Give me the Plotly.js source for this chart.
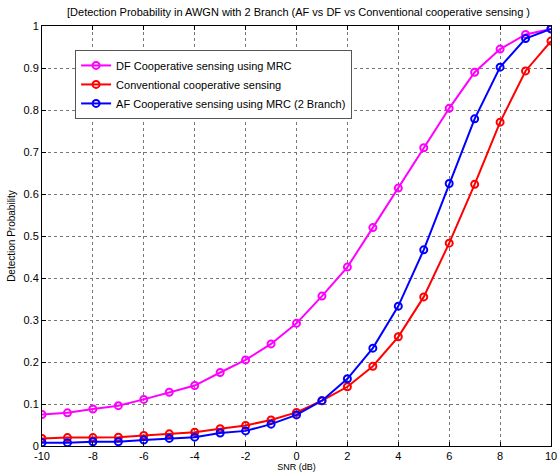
<!DOCTYPE html>
<html>
<head>
<meta charset="utf-8">
<script src="https://cdn.plot.ly/plotly-3.0.1.min.js"></script>
<style>html,body{margin:0;padding:0;background:#fff;}#chart{width:558px;height:472px;}</style>
</head>
<body>
<div id="chart"></div>
<script>
const snr = [-10,-9,-8,-7,-6,-5,-4,-3,-2,-1,0,1,2,3,4,5,6,7,8,9,10];
const dfMRC = [0.075,0.079,0.088,0.096,0.111,0.128,0.144,0.175,0.205,0.243,0.292,0.357,0.426,0.52,0.614,0.71,0.804,0.89,0.945,0.98,0.993];
const conventional = [0.018,0.02,0.02,0.021,0.025,0.029,0.033,0.041,0.049,0.062,0.080,0.108,0.141,0.19,0.26,0.355,0.483,0.623,0.771,0.893,0.964];
const afMRC = [0.008,0.008,0.010,0.010,0.014,0.018,0.021,0.031,0.036,0.052,0.074,0.108,0.160,0.233,0.333,0.467,0.625,0.779,0.902,0.97,0.993];
const names = ['DF Cooperative sensing using MRC','Conventional cooperative sensing','AF Cooperative sensing using MRC (2 Branch)'];
const colors = ['#ff00ff','#ff0000','#0000ff'];
const series = [dfMRC, conventional, afMRC];
const xTicks = [-10,-8,-6,-4,-2,0,2,4,6,8,10];

const traces = series.map((s,i)=>({
  x: snr, y: s, name: names[i], type:'scatter', mode:'lines+markers',
  line:{color:colors[i], width:2},
  marker:{symbol:'circle-open', size:7, color:colors[i], line:{width:2, color:colors[i]}}
}));

const axisCommon = {
  showline:true, linecolor:'#000', linewidth:1, mirror:'ticks',
  ticks:'inside', ticklen:4, tickcolor:'#000',
  showgrid:true, gridcolor:'#777', griddash:'dot', gridwidth:1,
  zeroline:false, tickfont:{family:'Arial, Liberation Sans, sans-serif', size:11, color:'#000'}
};

const layout = {
  width:558, height:472,
  margin:{l:42, r:7, t:26, b:26},
  paper_bgcolor:'#fff', plot_bgcolor:'#fff',
  title:{text:'[Detection Probability in AWGN with 2 Branch (AF vs DF vs Conventional cooperative sensing )',
    font:{family:'Arial, Liberation Sans, sans-serif', size:11, color:'#000'}, x:0.535, xanchor:'center', y:0.975, yanchor:'middle'},
  xaxis:Object.assign({}, axisCommon, {range:[-10,10], tickvals:xTicks, ticktext:xTicks.map(String),
    title:{text:'SNR (dB)', font:{family:'Arial, Liberation Sans, sans-serif', size:9, color:'#000'}, standoff:2}}),
  yaxis:Object.assign({}, axisCommon, {range:[0,1], dtick:0.1, tick0:0,
    title:{text:'Detection Probability', font:{family:'Arial, Liberation Sans, sans-serif', size:10, color:'#000'}, standoff:6}}),
  legend:{x:0.065, y:0.943, xanchor:'left', yanchor:'top', bgcolor:'#fff', bordercolor:'#555', borderwidth:1,
    font:{family:'Arial, Liberation Sans, sans-serif', size:11, color:'#000'}, tracegroupgap:0, itemwidth:30},
  showlegend:true
};

Plotly.newPlot('chart', traces, layout, {displayModeBar:false, staticPlot:true});
</script>
</body>
</html>
